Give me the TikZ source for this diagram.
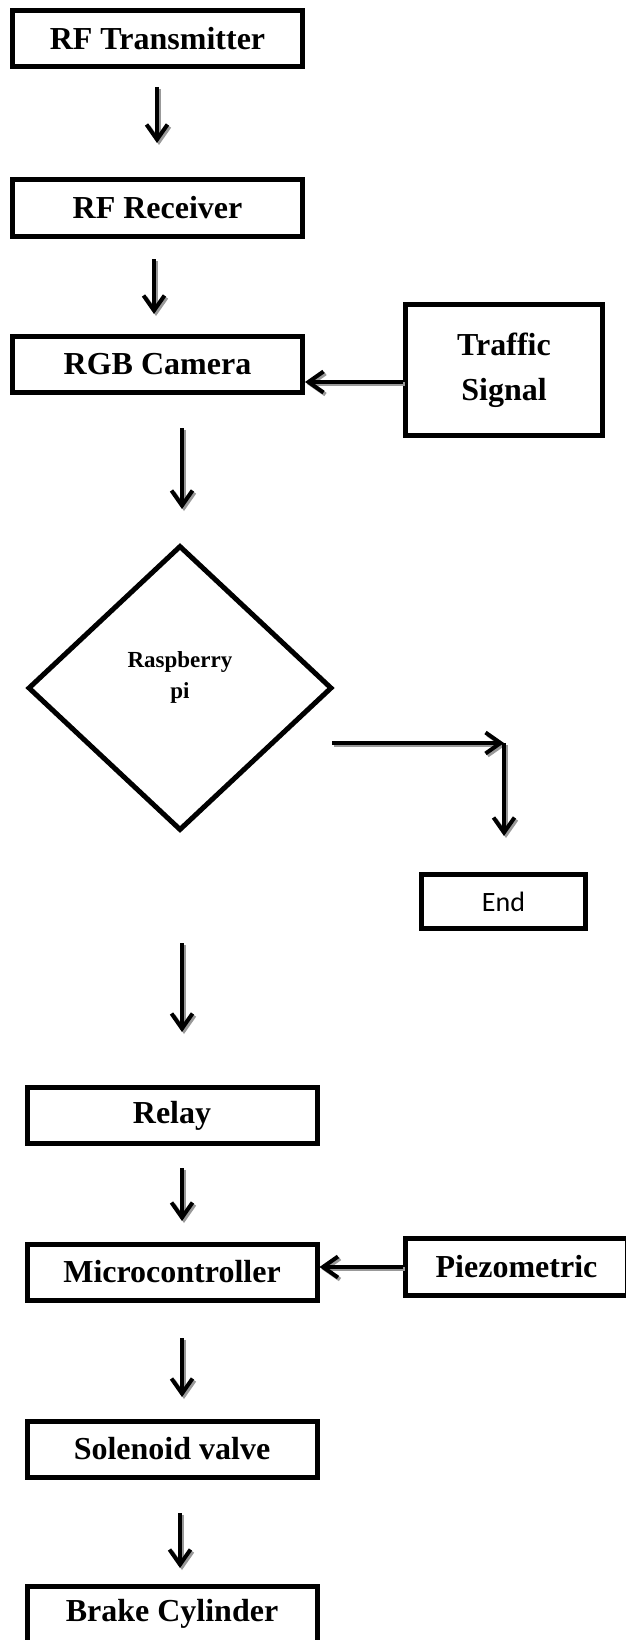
\documentclass[tikz,border=0pt]{standalone}
\usepackage{fontspec}
\setmainfont{Liberation Serif}
\newfontfamily\endfont{Carlito}
\usetikzlibrary{arrows.meta,shapes.geometric,calc}
\begin{document}
\begin{tikzpicture}[x=1pt,y=-1pt,
  box/.style={draw, line width=5pt, inner sep=0pt, align=center,
    font=\fontsize{32}{38}\selectfont\bfseries},
  wide/.style={minimum width=290pt, minimum height=56pt},
  arr/.style={line width=4pt, -{Straight Barb[length=15pt,width=21pt]}},
  arrshadow/.style={arr, draw=black!40},
]
\useasboundingbox (0,0) rectangle (625,1640);

% boxes
\node[box, wide] (tx) at (157.5,38.5) {RF Transmitter};
\node[box, wide] (rx) at (157.5,208) {RF Receiver};
\node[box, wide] (cam) at (157.5,364.5) {RGB Camera};
\node[box, minimum width=197pt, minimum height=131pt,
  font=\fontsize{32}{45}\selectfont\bfseries] (ts) at (504,370) {Traffic\\Signal};
\node[draw, line width=5pt, shape=diamond, inner sep=0pt,
  minimum width=304pt, minimum height=285pt] (rp) at (180,688) {};
\node[font=\fontsize{23}{31}\selectfont\bfseries, align=center] (rpt) at (180,677) {Raspberry\\pi};
\node[box, minimum width=164pt, minimum height=54pt,
  font=\endfont\fontsize{28}{34}\selectfont] (end) at (503.5,901.5) {End};
\node[box, wide] (relay) at (172,1115.5) {Relay};
\node[box, wide] (mc) at (172,1272) {Microcontroller};
\node[box, minimum width=222pt, minimum height=57pt] (pz) at (516.5,1267) {Piezometric};
\node[box, wide] (sv) at (172,1449) {Solenoid valve};
\node[box, wide] (bc) at (172,1614) {Brake Cylinder};

% connector end points
\coordinate (a1s) at (157,87);   \coordinate (a1e) at (157,143);
\coordinate (a2s) at (154,259);  \coordinate (a2e) at (154,314);
\coordinate (tss) at ($(ts.west)+(0,12)$);
\coordinate (tse) at ($(cam.east)+(0,17.5)$);
\coordinate (a3s) at (182,428);  \coordinate (a3e) at (182,509);
\coordinate (d1) at (332,743);   \coordinate (d2) at (504,743);
\coordinate (d3) at (504,836);
\coordinate (a4s) at (182,943);  \coordinate (a4e) at (182,1032);
\coordinate (a5s) at (182,1168); \coordinate (a5e) at (182,1221);
\coordinate (pzs) at (pz.west);
\coordinate (pze) at ($(mc.east)+(0,-5)$);
\coordinate (a6s) at (182,1338); \coordinate (a6e) at (182,1397);
\coordinate (a7s) at (180,1513); \coordinate (a7e) at (180,1568);

% connectors (grey shadow, then black arrow)
\foreach \s/\e in {a1s/a1e, a2s/a2e, tss/tse, a3s/a3e, d1/d2, d2/d3,
                   a4s/a4e, a5s/a5e, pzs/pze, a6s/a6e, a7s/a7e} {
  \begin{scope}[transform canvas={shift={(2pt,-2pt)}}]
    \draw[arrshadow] (\s) -- (\e);
  \end{scope}
  \draw[arr] (\s) -- (\e);
}
\end{tikzpicture}
\end{document}
